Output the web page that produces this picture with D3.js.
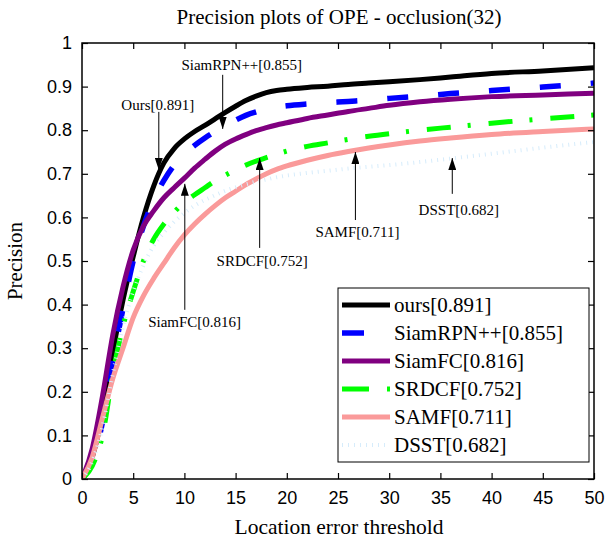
<!DOCTYPE html>
<html>
<head>
<meta charset="utf-8">
<script src="https://cdn.jsdelivr.net/npm/d3@7"></script>
<style>
  html, body { margin: 0; padding: 0; background: #fff; }
  svg { display: block; }
</style>
</head>
<body>
<svg id="chart" width="609" height="546"></svg>
<script>
// ---------------- data ----------------
const thresholds = [0,1,2,3,4,5,6,7,8,9,10,11,12,13,14,15,16,17,18,19,20,22,24,26,28,30,33,36,40,45,50];

const seriesNames = ["ours[0.891]", "SiamRPN++[0.855]", "SiamFC[0.816]", "SRDCF[0.752]", "SAMF[0.711]", "DSST[0.682]"];

const oursValues     = [0,0.05,0.15,0.29,0.41,0.51,0.60,0.672,0.725,0.758,0.780,0.797,0.811,0.826,0.841,0.855,0.868,0.878,0.886,0.891,0.894,0.898,0.901,0.905,0.908,0.911,0.916,0.922,0.930,0.936,0.943];
const siamRPNValues  = [0,0.04,0.13,0.27,0.39,0.50,0.58,0.640,0.685,0.720,0.745,0.765,0.782,0.797,0.810,0.823,0.834,0.842,0.848,0.853,0.856,0.860,0.863,0.866,0.869,0.873,0.878,0.884,0.891,0.899,0.908];
const siamFCValues   = [0,0.07,0.19,0.33,0.44,0.525,0.58,0.615,0.645,0.668,0.690,0.713,0.733,0.752,0.768,0.780,0.790,0.799,0.806,0.812,0.817,0.827,0.835,0.843,0.850,0.857,0.865,0.871,0.877,0.881,0.885];
const srdcfValues    = [0,0.03,0.10,0.24,0.35,0.43,0.50,0.550,0.585,0.612,0.635,0.652,0.668,0.684,0.697,0.709,0.720,0.729,0.737,0.745,0.752,0.763,0.771,0.779,0.786,0.792,0.800,0.807,0.816,0.826,0.835];
const samfValues     = [0,0.05,0.14,0.23,0.30,0.37,0.42,0.460,0.495,0.530,0.560,0.585,0.607,0.627,0.645,0.660,0.675,0.688,0.700,0.710,0.718,0.731,0.742,0.751,0.759,0.766,0.775,0.782,0.790,0.797,0.803];
const dsstValues     = [0,0.04,0.12,0.24,0.35,0.43,0.49,0.535,0.565,0.590,0.610,0.627,0.640,0.651,0.661,0.669,0.676,0.682,0.687,0.692,0.696,0.702,0.707,0.712,0.716,0.720,0.727,0.735,0.746,0.760,0.773];

const xTicks = [0,5,10,15,20,25,30,35,40,45,50];
const yTicks = [0,0.1,0.2,0.3,0.4,0.5,0.6,0.7,0.8,0.9,1];

// annotation labels and the curve point (threshold, precision) each arrow points at
const annotationLabels = ["SiamRPN++[0.855]", "Ours[0.891]", "SiamFC[0.816]", "SRDCF[0.752]", "SAMF[0.711]", "DSST[0.682]"];
const annotationTipT   = [13.74, 7.5, 10.04, 17.35, 26.7, 36.16];
const annotationTipV   = [0.803, 0.709, 0.677, 0.736, 0.750, 0.736];
const annotationTextT  = [15.6, 7.4, 11.0, 17.6, 26.9, 36.8];
const annotationTextV  = [0.950, 0.858, 0.360, 0.500, 0.567, 0.617];
const annotationTailV  = [0.927, 0.842, 0.388, 0.530, 0.594, 0.654];

// ---------------- styles / layout ----------------
const styles = [
  {color: "#000000", width: 5,   dash: null},
  {color: "#0000FF", width: 5.5, dash: "21,30"},
  {color: "#800080", width: 5,   dash: null},
  {color: "#00FF00", width: 5,   dash: "24,17,3,18"},
  {color: "#FA9A9A", width: 5,   dash: null},
  {color: "#D6ECFB", width: 4,   dash: "1,5"}
];
const seriesValues = [oursValues, siamRPNValues, siamFCValues, srdcfValues, samfValues, dsstValues];

const serif = "'Liberation Serif', 'Times New Roman', serif";
const sans  = "'Liberation Sans', Arial, sans-serif";

const L = 82, R = 594, T = 43, B = 479;
const svg = d3.select("#chart");

const x = d3.scaleLinear().domain([0, 50]).range([L, R]);
const y = d3.scaleLinear().domain([0, 1]).range([B, T]);

// clip
svg.append("defs").append("clipPath").attr("id", "plotClip")
  .append("rect").attr("x", L).attr("y", T - 3).attr("width", R - L).attr("height", B - T + 3);

// lines
const line = d3.line().x(d => x(d[0])).y(d => y(d[1])).curve(d3.curveMonotoneX);
const plotG = svg.append("g").attr("clip-path", "url(#plotClip)");
seriesValues.forEach((vals, i) => {
  const pts = thresholds.map((t, k) => [t, vals[k]]);
  const p = plotG.append("path")
    .attr("d", line(pts))
    .attr("fill", "none")
    .attr("stroke", styles[i].color)
    .attr("stroke-width", styles[i].width)
    .attr("stroke-linejoin", "round");
  if (styles[i].dash) p.attr("stroke-dasharray", styles[i].dash);
});

// axes (MATLAB-like box with inward ticks)
const tickLen = 6;
const axB = svg.append("g").attr("transform", `translate(0,${B})`)
  .call(d3.axisBottom(x).tickValues(xTicks).tickSizeInner(-tickLen).tickSizeOuter(0).tickPadding(10).tickFormat(d3.format("d")));
const axT = svg.append("g").attr("transform", `translate(0,${T})`)
  .call(d3.axisTop(x).tickValues(xTicks).tickSizeInner(-tickLen).tickSizeOuter(0).tickFormat(""));
const axL = svg.append("g").attr("transform", `translate(${L},0)`)
  .call(d3.axisLeft(y).tickValues(yTicks).tickSizeInner(-tickLen).tickSizeOuter(0).tickPadding(10).tickFormat(d => d === 0 || d === 1 ? d3.format("d")(d) : d3.format(".1f")(d)));
const axR = svg.append("g").attr("transform", `translate(${R},0)`)
  .call(d3.axisRight(y).tickValues(yTicks).tickSizeInner(-tickLen).tickSizeOuter(0).tickFormat(""));

[axB, axT, axL, axR].forEach(g => {
  g.select(".domain").remove();
  g.selectAll(".tick line").attr("stroke", "#000").attr("stroke-width", 1.2);
  g.selectAll("text").attr("font-family", sans).attr("font-size", 18).attr("fill", "#000");
});
axB.selectAll("text").attr("dy", "0.85em");

svg.append("rect").attr("x", L).attr("y", T).attr("width", R - L).attr("height", B - T)
  .attr("fill", "none").attr("stroke", "#000").attr("stroke-width", 1.5);

// annotations
const defs = svg.select("defs");
defs.append("marker").attr("id", "arrowHead").attr("viewBox", "0 0 12 8")
  .attr("refX", 12).attr("refY", 4).attr("markerWidth", 12).attr("markerHeight", 8)
  .attr("markerUnits", "userSpaceOnUse").attr("orient", "auto")
  .append("path").attr("d", "M0,0 L12,4 L0,8 Z").attr("fill", "#000");

annotationLabels.forEach((lab, i) => {
  svg.append("line")
    .attr("x1", x(annotationTipT[i])).attr("y1", y(annotationTailV[i]))
    .attr("x2", x(annotationTipT[i])).attr("y2", y(annotationTipV[i]))
    .attr("stroke", "#000").attr("stroke-width", 1)
    .attr("marker-end", "url(#arrowHead)");
  svg.append("text")
    .attr("x", x(annotationTextT[i])).attr("y", y(annotationTextV[i]))
    .attr("dy", "0.35em").attr("text-anchor", "middle")
    .attr("font-family", serif).attr("font-size", 15).attr("fill", "#000")
    .text(lab);
});

// legend
const lg = svg.append("g");
lg.append("rect").attr("x", 338).attr("y", 288).attr("width", 251).attr("height", 174)
  .attr("fill", "#fff").attr("stroke", "#000").attr("stroke-width", 1);
seriesNames.forEach((name, i) => {
  const yy = 305 + i * 28;
  const seg = lg.append("line").attr("x1", 342).attr("x2", 390).attr("y1", yy).attr("y2", yy)
    .attr("stroke", styles[i].color).attr("stroke-width", styles[i].width);
  if (styles[i].dash) seg.attr("stroke-dasharray", i === 1 ? "22,30" : (i === 3 ? "27,18,3,18" : styles[i].dash));
  lg.append("text").attr("x", 394).attr("y", yy).attr("dy", "0.35em")
    .attr("font-family", serif).attr("font-size", 21).attr("fill", "#000").text(name);
});

// titles
svg.append("text").attr("x", 339).attr("y", 24).attr("text-anchor", "middle")
  .attr("font-family", serif).attr("font-size", 21).text("Precision plots of OPE - occlusion(32)");
svg.append("text").attr("x", 339).attr("y", 534).attr("text-anchor", "middle")
  .attr("font-family", serif).attr("font-size", 21.5).text("Location error threshold");
svg.append("text").attr("transform", `translate(22,${(T + B) / 2}) rotate(-90)`).attr("text-anchor", "middle")
  .attr("font-family", serif).attr("font-size", 21).text("Precision");
</script>
</body>
</html>
